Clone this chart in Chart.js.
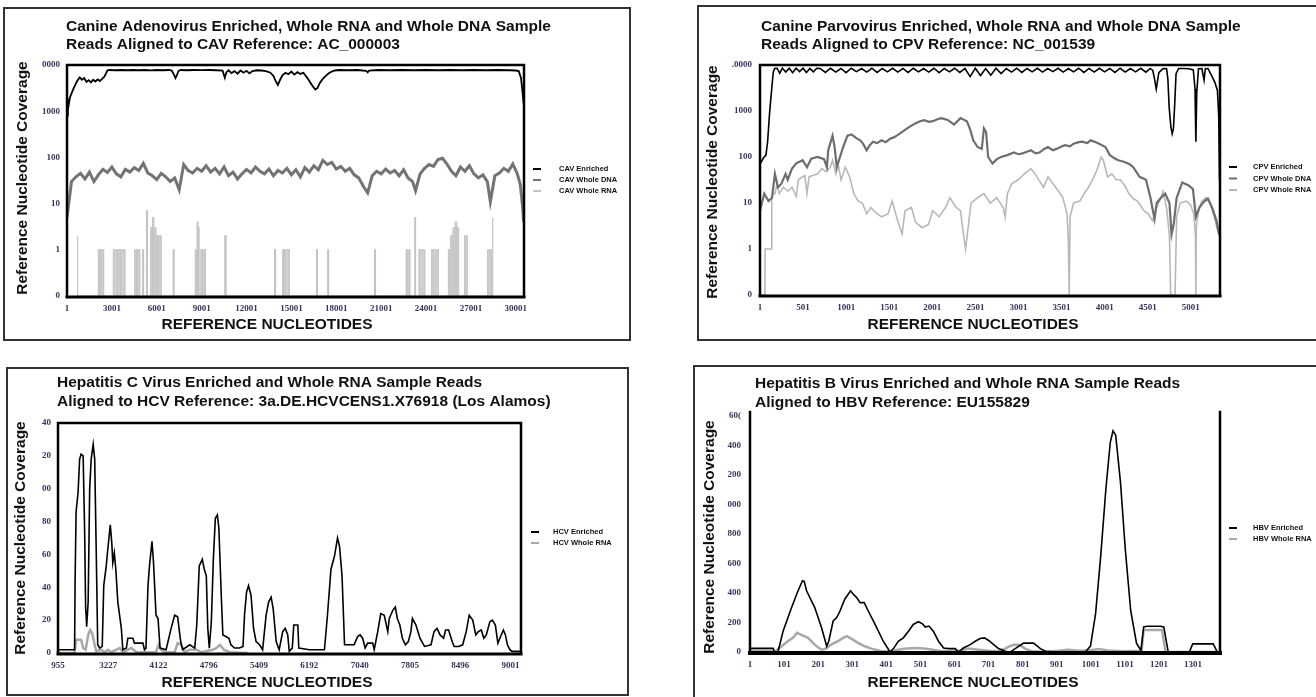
<!DOCTYPE html>
<html>
<head>
<meta charset="utf-8">
<script src="https://cdn.jsdelivr.net/npm/chart.js@4.4.1/dist/chart.umd.min.js"></script>
<style>
  html, body { margin: 0; padding: 0; background: #fff; width: 1316px; height: 697px; overflow: hidden; }
  .box { position: absolute; border: 2px solid #333; box-sizing: border-box; }
  canvas { position: absolute; }
</style>
</head>
<body>
<div class="box" style="left:3px;top:7px;width:628px;height:334px"></div>
<div class="box" style="left:697px;top:5px;width:700px;height:336px"></div>
<div class="box" style="left:6px;top:367px;width:623px;height:329px"></div>
<div class="box" style="left:693px;top:365px;width:700px;height:400px"></div>
<canvas id="cavChart" style="left:3px;top:7px" width="627" height="333"></canvas>
<canvas id="cpvChart" style="left:697px;top:5px" width="619" height="335"></canvas>
<canvas id="hcvChart" style="left:6px;top:367px" width="622" height="328"></canvas>
<canvas id="hbvChart" style="left:693px;top:365px" width="623" height="332"></canvas>
<script>
// ---- CAV (canine adenovirus), log coverage ----
const cavXTicks = [1, 3001, 6001, 9001, 12001, 15001, 18001, 21001, 24001, 27001, 30001];
const cavYTicks = ['0', '1', '10', '100', '1000', '0000'];

const cavEnrichedNt = [1, 60, 120, 200, 300, 420, 550, 700, 850, 1000, 1150, 1300, 1450, 1600, 1750, 1900, 2050, 2200, 2350, 2500,
  2600, 2700, 2800, 3200, 3600, 4000, 4400, 4800, 5200, 5600, 6000, 6400, 6800, 7000, 7150, 7250, 7350, 7450, 7600, 8000,
  8500, 9000, 9500, 10000, 10400, 10550, 10650, 10800, 11000, 11200, 11400, 11600, 11800, 12000, 12200, 12400, 12700, 13000, 13300, 13600,
  13800, 13950, 14100, 14250, 14400, 14600, 14800, 15000, 15200, 15400, 15600, 15800, 16000, 16150, 16300, 16450, 16600, 16750, 16900, 17100,
  17300, 17500, 17700, 17900, 18200, 18800, 19400, 20000, 20100, 20200, 20800, 21600, 22400, 23200, 24000, 24800, 25600, 26400, 27200, 28000,
  28800, 29600, 30000, 30200, 30350, 30450, 30520];
const cavEnriched = [800, 1700, 1400, 2000, 2400, 3000, 3700, 4600, 5400, 4800, 5200, 4300, 4700, 4200, 4800, 4400, 4900, 4500, 5000, 5600,
  6500, 7600, 7800, 7700, 7800, 7700, 7800, 7700, 7800, 7650, 7800, 7700, 7800, 7600, 6200, 5200, 6000, 7400, 7800, 7700,
  7800, 7750, 7800, 7700, 7600, 5300, 6900, 7700, 6700, 7400, 6500, 7600, 6800, 7500, 6600, 7400, 7700, 7600, 7400, 6800,
  5800, 4500, 3700, 4800, 6000, 6800, 6300, 7200, 6200, 7000, 6400, 6800, 5600, 4800, 4000, 3400, 2950, 3200, 4100, 5000,
  5800, 6600, 7200, 7600, 7800, 7700, 7800, 7500, 6900, 7600, 7800, 7700, 7800, 7700, 7800, 7700, 7800, 7700, 7800, 7700,
  7800, 7700, 7600, 7400, 5200, 2600, 1500];

const cavDnaNt = [1, 301, 601, 901, 1201, 1501, 1801, 2101, 2401, 2701, 3001, 3301, 3601, 3901, 4201, 4501, 4801, 5101, 5401, 5701,
  6001, 6301, 6601, 6901, 7201, 7501, 7801, 8101, 8401, 8701, 9001, 9301, 9601, 9901, 10201, 10501, 10801, 11101, 11401, 11701,
  12001, 12301, 12601, 12901, 13201, 13501, 13801, 14101, 14401, 14701, 15001, 15301, 15601, 15901, 16201, 16501, 16801, 17101, 17401, 17701,
  18001, 18301, 18601, 18901, 19201, 19501, 19801, 20101, 20401, 20701, 21001, 21301, 21601, 21901, 22201, 22501, 22801, 23101, 23301, 23601,
  23901, 24201, 24501, 24801, 25101, 25401, 25701, 26001, 26301, 26601, 26901, 27201, 27501, 27801, 28101, 28301, 28601, 28901, 29201, 29501,
  29801, 30101, 30301, 30450, 30530];
const cavDna = [5, 30, 38, 45, 34, 48, 30, 42, 55, 47, 62, 44, 38, 55, 48, 60, 52, 74, 46, 40,
  33, 45, 38, 30, 36, 20, 70, 52, 46, 58, 50, 66, 48, 58, 44, 62, 40, 48, 34, 44,
  55, 46, 62, 50, 44, 56, 40, 52, 46, 58, 42, 54, 38, 60, 48, 66, 54, 86, 70, 78,
  56, 64, 50, 58, 42, 36, 24, 17, 40, 50, 44, 56, 46, 52, 40, 54, 36, 30, 19, 44,
  58, 70, 64, 90, 96, 72, 50, 40, 62, 50, 66, 44, 36, 42, 30, 11, 40, 46, 58, 50,
  72, 44, 26, 9, 4];

// whole RNA reads: covered stretches (start nt, end nt, coverage)
const cavRnaStart = [690, 2100, 2250, 3100, 3400, 3600, 4530, 4700, 5060, 5320, 5600, 5720, 5820, 5950, 6100, 7100, 8580, 8700, 8760, 8950,
  9150, 10550, 13880, 14420, 14550, 16680, 17430, 20560, 22680, 22850, 23250, 23530, 24380, 24600, 25500, 25650, 25800, 25950, 26050, 26580,
  28120, 28430];
const cavRnaEnd = [720, 2200, 2450, 3350, 3550, 3880, 4650, 4870, 5120, 5380, 5700, 5800, 5950, 6060, 6300, 7160, 8680, 8760, 8830, 9050,
  9250, 10640, 13940, 14500, 14860, 16740, 17490, 20620, 22750, 22930, 23300, 23920, 24500, 24820, 25650, 25800, 25950, 26050, 26180, 26760,
  28360, 28470];
const cavRna = [2, 1, 1, 1, 1, 1, 1, 1, 1, 7, 3, 5, 3, 2, 2, 1, 1, 4, 3, 1,
  1, 2, 1, 1, 1, 1, 1, 1, 1, 1, 5, 1, 1, 1, 1, 2, 3, 4, 3, 2,
  1, 5];

// ---- CPV (canine parvovirus), log coverage ----
const cpvXTicks = [1, 501, 1001, 1501, 2001, 2501, 3001, 3501, 4001, 4501, 5001];
const cpvYTicks = ['0', '1', '10', '100', '1000', '.0000'];

const cpvEnrichedNt = [1, 40, 70, 90, 110, 125, 140, 155, 170, 200, 230, 260, 300, 340, 380, 420, 460, 500, 540, 580,
  620, 660, 700, 760, 820, 880, 940, 1000, 1060, 1120, 1180, 1240, 1300, 1360, 1420, 1480, 1540, 1600, 1660, 1720,
  1780, 1840, 1900, 1960, 2020, 2080, 2140, 2200, 2260, 2320, 2380, 2440, 2500, 2560, 2620, 2680, 2740, 2800, 2860, 2920,
  2980, 3040, 3100, 3160, 3220, 3280, 3340, 3400, 3460, 3520, 3580, 3640, 3700, 3760, 3820, 3880, 3940, 4000, 4060, 4120,
  4180, 4240, 4300, 4360, 4420, 4480, 4530, 4560, 4580, 4600, 4630, 4680, 4720, 4735, 4750, 4770, 4785, 4800, 4815, 4830,
  4860, 4920, 4980, 5030, 5050, 5060, 5070, 5090, 5130, 5155, 5170, 5200, 5240, 5280, 5310, 5325, 5335];
const cpvEnriched = [70, 95, 110, 220, 800, 1700, 3500, 7000, 8400, 8500, 6600, 8500, 7000, 8500, 6800, 8500, 7200, 8500, 6900, 8400,
  7100, 8500, 8400, 6900, 8500, 7000, 8400, 6800, 8500, 7200, 8400, 7000, 8500, 6900, 8400, 7100, 8500, 7000, 8400, 6900,
  8500, 7100, 8400, 7000, 8500, 6800, 8400, 7100, 8500, 6900, 8400, 5600, 8500, 5900, 8400, 6000, 8500, 6500, 8400, 7000,
  8500, 6900, 8400, 7100, 8500, 7000, 8400, 7200, 8500, 7000, 8400, 7100, 8500, 6900, 8400, 7000, 8500, 7100, 8400, 6900,
  8500, 7000, 8400, 7100, 8500, 7000, 8400, 7600, 5000, 3000, 6800, 8400, 8300, 5000, 1200, 450, 320, 420, 1500, 6500,
  8400, 8400, 8300, 7800, 3000, 215, 2500, 8300, 8400, 4700, 8300, 8400, 6000, 4200, 2800, 800, 30];

const cpvDnaNt = [1, 50, 100, 140, 174, 209, 248, 298, 323, 372, 422, 496, 546, 595, 669, 744, 778, 793, 843, 867,
  892, 917, 966, 1016, 1065, 1115, 1164, 1200, 1238, 1275, 1313, 1360, 1412, 1460, 1511, 1560, 1610, 1660, 1709, 1760,
  1808, 1860, 1907, 1960, 2006, 2060, 2105, 2179, 2253, 2328, 2402, 2440, 2476, 2526, 2575, 2600, 2625, 2649, 2699, 2750,
  2798, 2872, 2947, 3000, 3046, 3100, 3145, 3200, 3244, 3300, 3343, 3400, 3442, 3500, 3541, 3600, 3640, 3700, 3739, 3800,
  3838, 3900, 3937, 4011, 4060, 4110, 4159, 4234, 4290, 4333, 4407, 4481, 4531, 4580, 4605, 4654, 4704, 4753, 4778, 4803,
  4837, 4902, 4976, 5026, 5060, 5100, 5149, 5199, 5248, 5298, 5332];
const cpvDna = [6.8, 16, 11, 13, 43, 22, 26, 43, 32, 56, 73, 85, 60, 92, 100, 90, 60, 140, 290, 165,
  60, 85, 165, 290, 310, 260, 230, 190, 140, 180, 215, 200, 230, 210, 250, 270, 310, 360, 420, 480,
  540, 600, 630, 580, 600, 660, 700, 640, 510, 700, 600, 400, 230, 165, 150, 420, 350, 100, 72, 90,
  100, 110, 125, 115, 120, 130, 140, 120, 125, 150, 165, 140, 150, 170, 180, 170, 195, 210, 215, 200,
  230, 210, 195, 165, 110, 95, 85, 78, 70, 60, 37, 32, 13.5, 4.5, 10, 13, 16, 10, 2.1, 3.5,
  13, 28, 24, 20, 5, 8, 10.5, 12.5, 8, 4.2, 2];

const cpvRnaNt = [1, 58, 60, 133, 135, 140, 154, 174, 199, 224, 273, 323, 372, 422, 447, 521, 546, 570, 669, 719,
  768, 818, 843, 882, 907, 942, 991, 1041, 1090, 1140, 1189, 1239, 1288, 1338, 1412, 1486, 1536, 1585, 1650, 1684,
  1758, 1808, 1882, 1957, 2006, 2080, 2155, 2204, 2278, 2328, 2362, 2387, 2412, 2451, 2526, 2600, 2674, 2748, 2823, 2847,
  2872, 2922, 2996, 3070, 3145, 3194, 3244, 3293, 3343, 3417, 3466, 3516, 3565, 3580, 3590, 3600, 3640, 3714, 3763, 3813,
  3862, 3912, 3961, 3986, 4011, 4036, 4085, 4135, 4184, 4234, 4283, 4333, 4382, 4457, 4506, 4556, 4605, 4655, 4679, 4719,
  4753, 4768, 4818, 4837, 4877, 4951, 5001, 5036, 5055, 5060, 5065, 5085, 5125, 5174, 5224, 5273, 5323];
const cpvRna = [0, 0, 1, 1, 4.1, 12, 16, 16, 26, 16, 22, 18, 22, 14, 32, 40, 16, 37, 43, 56,
  48, 60, 85, 43, 72, 32, 60, 37, 16, 11, 10, 5.8, 8, 6.3, 5, 5.8, 11, 5, 2.1, 6.8,
  8, 3.8, 2.9, 3.4, 6.8, 5, 8, 13, 8, 6.8, 2.1, 1, 2.5, 10, 13, 16, 10, 13, 8, 5,
  16, 26, 32, 43, 56, 43, 30, 22, 37, 24, 18, 13, 5.8, 1.5, 0, 5, 10, 11, 16, 22,
  32, 52, 100, 85, 56, 37, 43, 32, 32, 24, 16, 12.5, 11, 6.8, 5.8, 4.1, 8, 13, 18, 8,
  2, 0, 0, 5, 10, 11, 9, 5.8, 2, 0, 3, 5.8, 10.5, 13, 10, 5, 2.1];

// ---- HCV: category axis, positions are in label slots (0 = "955" ... 9 = "9001") ----
const hcvXTicks = ['955', '3227', '4122', '4796', '5409', '6192', '7040', '7805', '8496', '9001'];
const hcvYTicks = ['0', '20', '40', '60', '80', '00', '20', '40'];

const hcvPos = [0, 0.33, 0.34, 0.36, 0.40, 0.43, 0.46, 0.50, 0.53, 0.55, 0.56, 0.57, 0.60, 0.63, 0.66, 0.70, 0.73, 0.76, 0.79, 0.83,
  0.88, 0.91, 0.96, 0.99, 1.04, 1.07, 1.09, 1.12, 1.15, 1.19, 1.26, 1.29, 1.36, 1.39, 1.49, 1.52, 1.69, 1.72, 1.75, 1.79,
  1.82, 1.87, 1.90, 1.95, 1.99, 2.03, 2.15, 2.25, 2.32, 2.38, 2.44, 2.48, 2.62, 2.72, 2.76, 2.81, 2.87, 2.91, 2.95, 2.98,
  3.01, 3.05, 3.09, 3.13, 3.17, 3.20, 3.25, 3.28, 3.34, 3.40, 3.44, 3.51, 3.61, 3.68, 3.71, 3.75, 3.79, 3.84, 3.89, 3.94,
  4.01, 4.07, 4.14, 4.19, 4.24, 4.28, 4.34, 4.40, 4.47, 4.52, 4.57, 4.60, 4.66, 4.69, 4.77, 4.79, 5.00, 5.30, 5.36, 5.43,
  5.50, 5.56, 5.60, 5.65, 5.70, 5.89, 5.96, 6.01, 6.06, 6.11, 6.16, 6.26, 6.29, 6.36, 6.42, 6.49, 6.56, 6.59, 6.66, 6.71,
  6.75, 6.80, 6.85, 6.91, 6.97, 7.02, 7.05, 7.12, 7.20, 7.29, 7.42, 7.48, 7.54, 7.60, 7.67, 7.71, 7.77, 7.84, 7.88, 7.97,
  8.05, 8.12, 8.18, 8.25, 8.31, 8.36, 8.42, 8.47, 8.52, 8.59, 8.64, 8.70, 8.75, 8.79, 8.86, 8.90, 8.94, 8.99, 9.03, 9.21];
const hcvEnriched = [2, 2, 43, 86, 98, 118, 121, 120, 74, 27, 23, 16, 31, 100, 118, 127, 118, 63, 5, 3,
  4, 41, 53, 63, 78, 67, 55, 61, 51, 31, 15, 2, 3, 9, 9, 6, 6, 2, 3, 41,
  53, 68, 55, 23, 21, 3, 2, 15, 23, 22, 7, 2, 5, 3, 17, 53, 57, 51, 47, 15,
  3, 19, 57, 82, 84, 76, 33, 11, 10, 9, 5, 3, 3, 4, 23, 37, 41, 35, 15, 7,
  5, 2, 23, 31, 34, 27, 7, 2, 13, 15, 11, 1, 3, 17, 17, 3, 2, 2, 23, 51,
  59, 70, 65, 47, 5, 5, 10, 11, 9, 3, 6, 6, 2, 13, 24, 23, 13, 21, 26, 28,
  21, 17, 9, 5, 7, 13, 21, 17, 9, 4, 5, 13, 15, 11, 9, 14, 14, 7, 4, 4,
  5, 13, 23, 20, 11, 13, 14, 9, 11, 19, 20, 17, 6, 9, 14, 11, 5, 2, 1, 1];

const hcvRnaPos = [0, 0.33, 0.34, 0.36, 0.46, 0.50, 0.55, 0.60, 0.64, 0.68, 0.73, 0.76, 0.86, 0.93, 0.99, 1.06, 1.23, 1.29, 1.46, 1.56,
  1.95, 2.00, 2.05, 2.12, 2.32, 2.38, 2.45, 2.52, 2.62, 2.75, 2.85, 3.08, 3.15, 3.22, 3.30, 3.41, 3.77];
const hcvRna = [0, 0, 3, 8, 8, 3, 2, 11, 14, 12, 5, 1, 2, 0.5, 2, 0.5, 3, 0.5, 3, 0.5,
  0.5, 5, 2, 0.5, 0.5, 6, 5, 0.5, 2, 2, 0.5, 2, 3, 5, 2, 0.5, 0];

// ---- HBV ----
const hbvXTicks = [1, 101, 201, 301, 401, 501, 601, 701, 801, 901, 1001, 1101, 1201, 1301];
const hbvYTicks = ['0', '200', '400', '600', '800', '000', '200', '400', '60('];

const hbvEnrichedNt = [1, 69, 73, 83, 98, 123, 142, 155, 160, 167, 191, 211, 226, 232, 245, 255, 265, 279, 296, 304,
  314, 324, 336, 348, 368, 392, 412, 422, 436, 451, 466, 480, 495, 507, 515, 526, 539, 554, 569, 583,
  603, 613, 627, 647, 662, 676, 689, 701, 716, 730, 750, 765, 779, 794, 804, 833, 853, 868, 897, 985,
  1000, 1015, 1030, 1045, 1058, 1066, 1074, 1088, 1102, 1118, 1135, 1148, 1156, 1166, 1205, 1215, 1228, 1290, 1300, 1360,
  1372, 1380];
const hbvEnriched = [25, 25, 0, 0, 141, 301, 415, 483, 479, 415, 301, 164, 39, 73, 210, 232, 278, 358, 415, 392,
  369, 335, 335, 278, 187, 73, 0, 23, 73, 96, 141, 187, 205, 191, 169, 176, 141, 73, 27, 23,
  23, 0, 27, 50, 73, 91, 96, 78, 50, 23, 5, 0, 23, 46, 60, 60, 23, 5, 0, 0,
  40, 260, 650, 1100, 1420, 1500, 1470, 1150, 700, 280, 60, 10, 170, 175, 175, 170, 0, 0, 55, 55,
  0, 0];

const hbvRnaNt = [1, 69, 73, 87, 112, 127, 139, 150, 171, 191, 210, 224, 239, 259, 274, 285, 298, 318, 338, 357,
  387, 416, 436, 460, 495, 524, 554, 583, 613, 641, 671, 701, 730, 750, 763, 778, 793, 808, 827, 866,
  905, 935, 965, 1000, 1025, 1050, 1100, 1150, 1156, 1210, 1220, 1380];
const hbvRna = [12, 12, 0, 27, 73, 96, 130, 118, 96, 50, 16, 23, 50, 73, 96, 107, 91, 62, 39, 23,
  5, 5, 16, 23, 27, 21, 9, 5, 9, 23, 16, 9, 5, 23, 39, 50, 46, 23, 5, 2,
  9, 16, 9, 12, 20, 10, 5, 8, 150, 150, 0, 0];

// ---- helpers ----
const LOG_TICKS = [0.1, 1, 10, 100, 1000, 10000];   // 0.1 carries the "0" label
const TICK_FONT = { family: '"Liberation Serif", "DejaVu Serif", serif', size: 9, weight: 'bold' };
const TICK_COLOR = '#35355a';
const TITLE_FONT = 'bold 15.5px "Liberation Sans", Arial, sans-serif';
const AXIS_FONT = 'bold 15.5px "Liberation Sans", Arial, sans-serif';
const LEGEND_FONT = 'bold 7.5px "Liberation Sans", Arial, sans-serif';

const pts = (xs, ys) => xs.map((x, i) => ({ x: x, y: ys[i] }));
const logPts = (xs, ys) => xs.map((x, i) => ({ x: x, y: ys[i] > 0 ? ys[i] : 0.1 }));
function barPts(starts, ends, covs) {
  const out = [];
  starts.forEach((s, i) => {
    out.push({ x: s, y: 0.1 }, { x: s, y: covs[i] }, { x: ends[i], y: covs[i] }, { x: ends[i], y: 0.1 });
  });
  return out;
}

function xAxis(min, max, values, labels, box) {
  return {
    type: 'linear', min: min, max: max,
    afterBuildTicks: s => { s.ticks = values.map(v => ({ value: v })); },
    afterFit: s => { s.height = box.xHeight; },
    ticks: { callback: (v, i) => labels[i], font: TICK_FONT, color: TICK_COLOR, padding: 7,
             autoSkip: false, maxRotation: 0, minRotation: 0 },
    grid: { display: false, drawTicks: false },
    border: { display: false }
  };
}
function logAxis(labels, box) {
  return {
    type: 'logarithmic', min: 0.1, max: 10000,
    afterBuildTicks: s => { s.ticks = LOG_TICKS.map(v => ({ value: v })); },
    afterFit: s => { s.width = box.yWidth; },
    ticks: { callback: (v, i) => labels[i], font: TICK_FONT, color: TICK_COLOR, padding: box.tickPad, autoSkip: false },
    grid: { display: false, drawTicks: false },
    border: { display: false }
  };
}
function linAxis(max, step, labels, box) {
  return {
    type: 'linear', min: 0, max: max,
    ticks: { stepSize: step, callback: (v, i) => labels[i], font: TICK_FONT, color: TICK_COLOR, padding: box.tickPad, autoSkip: false },
    afterFit: s => { s.width = box.yWidth; },
    grid: { display: false, drawTicks: false },
    border: { display: false }
  };
}

function decor(d) {
  return {
    id: 'decor',
    afterDraw(chart) {
      const ctx = chart.ctx, a = chart.chartArea;
      ctx.save();
      ctx.strokeStyle = '#000';
      ctx.lineCap = 'square';
      ctx.lineWidth = d.frame;
      ctx.beginPath();
      if (d.topLine) { ctx.moveTo(a.left, a.top); ctx.lineTo(a.right, a.top); }
      ctx.moveTo(a.left, a.top - d.rise); ctx.lineTo(a.left, a.bottom);
      ctx.moveTo(a.right, a.top - d.rise); ctx.lineTo(a.right, a.bottom);
      ctx.stroke();
      ctx.lineWidth = d.base;
      ctx.beginPath();
      ctx.moveTo(a.left, a.bottom + 1); ctx.lineTo(a.right, a.bottom + 1);
      ctx.stroke();

      ctx.fillStyle = '#111';
      ctx.textBaseline = 'middle';
      ctx.textAlign = 'left';
      ctx.font = TITLE_FONT;
      d.title.forEach((t, i) => ctx.fillText(t, d.titleX, d.titleY[i]));

      ctx.textAlign = 'center';
      ctx.font = AXIS_FONT;
      ctx.fillText('REFERENCE NUCLEOTIDES', d.xTitle[0], d.xTitle[1]);
      ctx.save();
      ctx.translate(d.yTitle[0], d.yTitle[1]);
      ctx.rotate(-Math.PI / 2);
      ctx.fillText('Reference Nucleotide Coverage', 0, 0);
      ctx.restore();

      ctx.textAlign = 'left';
      ctx.font = LEGEND_FONT;
      ctx.lineCap = 'butt';
      chart.data.datasets.forEach((ds, i) => {
        const y = d.legendY + i * d.legendGap;
        ctx.strokeStyle = ds.borderColor;
        ctx.lineWidth = 2;
        ctx.beginPath(); ctx.moveTo(d.legendX, y); ctx.lineTo(d.legendX + 8, y); ctx.stroke();
        ctx.fillStyle = '#111';
        ctx.fillText(ds.label, d.legendX + d.legendText, y);
      });
      ctx.restore();
    }
  };
}

function panel(id, box, datasets, x, y, d) {
  return new Chart(document.getElementById(id), {
    type: 'line',
    data: { datasets: datasets },
    options: {
      responsive: false,
      animation: false,
      devicePixelRatio: 1,
      parsing: false,
      layout: { padding: { top: box.top, right: box.right, left: 0, bottom: 0 } },
      elements: { point: { radius: 0 }, line: { tension: 0 } },
      plugins: { legend: { display: false }, tooltip: { enabled: false } },
      scales: { x: x, y: y }
    },
    plugins: [decor(d)]
  });
}

// ---- CAV ----
const cavBox = { top: 58, right: 106, yWidth: 64, xHeight: 44, tickPad: 7 };
panel('cavChart', cavBox, [
  { label: 'CAV Enriched', data: logPts(cavEnrichedNt, cavEnriched), borderColor: '#000', borderWidth: 1.8 },
  { label: 'CAV Whole DNA', data: logPts(cavDnaNt, cavDna), borderColor: '#737373', borderWidth: 3 },
  { label: 'CAV Whole RNA', data: barPts(cavRnaStart, cavRnaEnd, cavRna), borderColor: '#c4c4c4', borderWidth: 1.2,
    fill: 'start', backgroundColor: 'rgba(196,196,196,0.8)' }
], xAxis(1, 30550, cavXTicks, cavXTicks.map(String), cavBox), logAxis(cavYTicks, cavBox), {
  title: ['Canine Adenovirus Enriched, Whole RNA and Whole DNA Sample', 'Reads Aligned to CAV Reference: AC_000003'],
  titleX: 63, titleY: [20, 38], xTitle: [264, 318], yTitle: [20, 171],
  legendX: 530, legendText: 26, legendY: 162, legendGap: 11,
  frame: 2.5, base: 3, topLine: true, rise: 0
});

// ---- CPV ----
const cpvBox = { top: 60, right: 96, yWidth: 63, xHeight: 45, tickPad: 8 };
panel('cpvChart', cpvBox, [
  { label: 'CPV Enriched', data: logPts(cpvEnrichedNt, cpvEnriched), borderColor: '#000', borderWidth: 1.6 },
  { label: 'CPV Whole DNA', data: logPts(cpvDnaNt, cpvDna), borderColor: '#6e6e6e', borderWidth: 2.2 },
  { label: 'CPV Whole RNA', data: logPts(cpvRnaNt, cpvRna), borderColor: '#b8b8b8', borderWidth: 1.6 }
], xAxis(1, 5340, cpvXTicks, cpvXTicks.map(String), cpvBox), logAxis(cpvYTicks, cpvBox), {
  title: ['Canine Parvovirus Enriched, Whole RNA and Whole DNA Sample', 'Reads Aligned to CPV Reference: NC_001539'],
  titleX: 64, titleY: [22, 40], xTitle: [276, 320], yTitle: [16, 177],
  legendX: 532, legendText: 24, legendY: 162, legendGap: 11.5,
  frame: 2.5, base: 3, topLine: true, rise: 0
});

// ---- HCV ----
const hcvBox = { top: 56, right: 107, yWidth: 52, xHeight: 42, tickPad: 7 };
panel('hcvChart', hcvBox, [
  { label: 'HCV Enriched', data: pts(hcvPos, hcvEnriched), borderColor: '#000', borderWidth: 1.6 },
  { label: 'HCV Whole RNA', data: pts(hcvRnaPos, hcvRna), borderColor: '#a8a8a8', borderWidth: 2.5 }
], xAxis(0, 9.21, [0, 1, 2, 3, 4, 5, 6, 7, 8, 9], hcvXTicks, hcvBox), linAxis(140, 20, hcvYTicks, hcvBox), {
  title: ['Hepatitis C Virus Enriched and Whole RNA Sample Reads', 'Aligned to HCV Reference: 3a.DE.HCVCENS1.X76918 (Los Alamos)'],
  titleX: 51, titleY: [16, 35], xTitle: [261, 316], yTitle: [15, 171],
  legendX: 525, legendText: 22, legendY: 165, legendGap: 11,
  frame: 2.5, base: 3, topLine: true, rise: 0
});

// ---- HBV ----
const hbvBox = { top: 51, right: 96, yWidth: 57, xHeight: 45, tickPad: 9 };
panel('hbvChart', hbvBox, [
  { label: 'HBV Enriched', data: pts(hbvEnrichedNt, hbvEnriched), borderColor: '#000', borderWidth: 1.6 },
  { label: 'HBV Whole RNA', data: pts(hbvRnaNt, hbvRna), borderColor: '#a8a8a8', borderWidth: 2.5 }
], xAxis(1, 1380, hbvXTicks, hbvXTicks.map(String), hbvBox), linAxis(1600, 200, hbvYTicks, hbvBox), {
  title: ['Hepatitis B Virus Enriched and Whole RNA Sample Reads', 'Aligned to HBV Reference: EU155829'],
  titleX: 62, titleY: [19, 38], xTitle: [280, 318], yTitle: [17, 172],
  legendX: 536, legendText: 24, legendY: 163, legendGap: 11,
  frame: 2.5, base: 4, topLine: false, rise: 4
});
</script>
</body>
</html>
